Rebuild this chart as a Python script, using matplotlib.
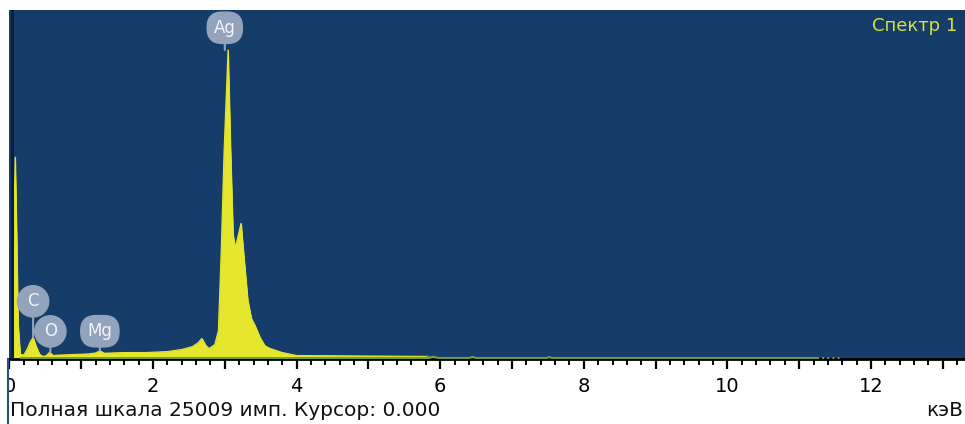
import numpy as np
import matplotlib.pyplot as plt
from matplotlib.ticker import MultipleLocator, FuncFormatter
from matplotlib.patches import Rectangle
from matplotlib.lines import Line2D

# EDS spectrum, energy in keV and counts
energy = [0.04, 0.06, 0.08, 0.10, 0.12, 0.15, 0.20, 0.25, 0.29, 0.33, 0.37,
          0.42, 0.47, 0.51, 0.56, 0.61, 0.70, 0.90, 1.10, 1.20, 1.26, 1.32,
          1.60, 1.90, 2.20, 2.40, 2.55, 2.62, 2.68, 2.74, 2.78, 2.86, 2.91,
          2.95, 2.99, 3.045, 3.08, 3.114, 3.14, 3.17, 3.226, 3.27, 3.32, 3.37,
          3.42, 3.49, 3.56, 3.63, 3.80, 4.00, 4.50, 5.00, 5.50, 5.82, 5.86,
          5.90, 5.95, 6.00, 6.40, 6.45, 6.50, 7.00, 7.48, 7.52, 7.56, 8.00,
          9.00, 10.00, 11.25]
counts = [0, 9000, 14450, 9000, 2500, 300, 250, 700, 1200, 1510, 900,
          300, 150, 200, 450, 220, 250, 290, 330, 400, 560, 380,
          430, 430, 500, 650, 860, 1100, 1440, 900, 720, 1000, 2000,
          7760, 14950, 22140, 14950, 8980, 7980, 8480, 9700, 7040, 4170, 2870,
          2370, 1510, 900, 720, 430, 215, 200, 180, 160, 150, 60,
          130, 60, 40, 40, 110, 40, 40, 40, 100, 40, 40,
          40, 40, 40]

full_scale = 25009
peak_labels = ["C", "O", "Mg", "Ag"]
peak_energies = [0.33, 0.57, 1.26, 3.0]

bg = "#163c69"
yellow = "#e6e62e"
green = "#6aa23c"
bubble = "#93a3bb"

fig = plt.figure(figsize=(9.65, 4.24), dpi=100)
W, H = 965, 424
x0, ybot, ytop = 9.4, 358.5, 10
ax = fig.add_axes([x0 / W, (H - ybot) / H, (W - x0) / W, (ybot - ytop) / H])
ax.set_facecolor(bg)
ax.set_xlim(0, (W - x0) / 71.8)
ax.set_ylim(0, full_scale)

e = np.array(energy)
c = np.array(counts)
ax.fill_between(e, 0, c, color=yellow, lw=0.6, zorder=2)
ax.plot(e, c, color=yellow, lw=0.8, zorder=2)
tail = e >= 5.82
ax.plot(e[tail], c[tail], color=green, lw=1.4, zorder=3)
ax.hlines(60, 0.15, 5.86, color=green, lw=1.4, zorder=3)
ax.hlines(60, 11.25, 11.6, color=green, lw=1.4, linestyles=":", zorder=3)

# cursor at 0.000 keV
ax.axvline(0.035, color="#0c1f3a", lw=2.2, zorder=4)

# peak markers
offsets = {"C": 26, "O": 15, "Mg": 14, "Ag": 16}
for lab, en in zip(peak_labels, peak_energies):
    near = np.abs(e - en) <= 0.06
    top = c[near].max()
    style = "circle,pad=0.4" if len(lab) == 1 else "round,pad=0.4,rounding_size=0.9"
    ax.annotate(lab, xy=(en, top), xytext=(0, offsets[lab]),
                textcoords="offset points", ha="center", va="center",
                fontsize=12, color="#f2f5f9", family="DejaVu Sans",
                bbox=dict(boxstyle=style, fc=bubble, ec=bubble),
                arrowprops=dict(arrowstyle="-", color=bubble, lw=1.5,
                                shrinkA=0, shrinkB=0),
                zorder=5)

ax.text(0.992, 0.953, "Спектр 1", transform=ax.transAxes, ha="right",
        va="center", fontsize=13, color="#d6df3c", family="DejaVu Sans")

for s in ["top", "left", "right"]:
    ax.spines[s].set_visible(False)
ax.spines["bottom"].set_linewidth(2)
ax.spines["bottom"].set_color("black")
ax.yaxis.set_visible(False)
ax.xaxis.set_major_locator(MultipleLocator(1))
ax.xaxis.set_minor_locator(MultipleLocator(0.2))
ax.xaxis.set_major_formatter(
    FuncFormatter(lambda v, p: f"{int(round(v))}" if round(v) % 2 == 0 else ""))
ax.tick_params(axis="x", which="major", direction="out", length=7, width=1.6,
               pad=6, labelsize=14, color="black")
ax.tick_params(axis="x", which="minor", direction="out", length=4, width=1.4,
               color="black")
for t in ax.get_xticklabels():
    t.set_family("DejaVu Sans")

# white margin on the left hides half of the "0" label
fig.patches.append(Rectangle((0, 0), x0 / W, (H - ybot) / H, transform=fig.transFigure,
                             fc="white", ec="none", zorder=10))
fig.lines.append(Line2D([x0 / W - 0.001] * 2, [0, (H - ybot) / H],
                        transform=fig.transFigure, color="#2a4f86", lw=1.5, zorder=11))

fig.text(10 / W, (H - 411) / H, "Полная шкала 25009 имп. Курсор: 0.000",
         ha="left", va="center", fontsize=14.5, color="#111111", family="DejaVu Sans")
fig.text(963 / W, (H - 411) / H, "кэВ", ha="right", va="center",
         fontsize=14.5, color="#111111", family="DejaVu Sans")

fig.savefig("out.png", dpi=100)
